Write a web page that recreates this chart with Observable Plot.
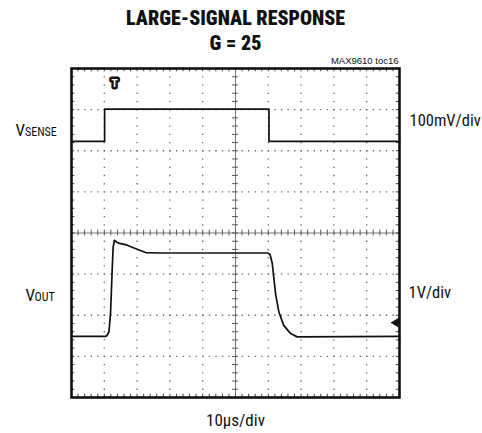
<!DOCTYPE html>
<html><head><meta charset="utf-8">
<script src="https://cdn.jsdelivr.net/npm/d3@7"></script>
<script src="https://cdn.jsdelivr.net/npm/@observablehq/plot@0.6"></script>
<style>body{margin:0;background:#fff;}</style>
</head><body><div id="chart"></div>
<script>
// Time base: 10 µs/div, 10 divisions
const xTicks = [0, 10, 20, 30, 40, 50, 60, 70, 80, 90, 100];
// Vertical: 8 divisions
const yTicks = [0, 1, 2, 3, 4, 5, 6, 7, 8];

// VSENSE trace (mV), 100 mV/div
const vsenseT  = [0, 10.1, 10.1, 60.2, 60.2, 100];
const vsenseMv = [0, 0, 78, 78, 0, 0];
const vsenseZeroDiv = 6.23;
const vsenseMvPerDiv = 100;

// VOUT trace (V), 1 V/div
const voutT = [0, 10.4, 10.9, 11.4, 11.9, 12.4, 12.7, 13.1, 13.7, 14.4, 17.0, 20.0, 22.6, 27.1, 59.7, 60.5, 61.2, 62.2, 63.2, 64.7, 66.8, 68.8, 100];
const voutV = [0, 0, 0.03, 0.11, 0.56, 1.61, 2.18, 2.34, 2.30, 2.27, 2.22, 2.12, 2.04, 2.03, 2.03, 2.00, 1.78, 1.05, 0.60, 0.27, 0.07, -0.01, 0];
const voutZeroDiv = 1.484;
const voutVPerDiv = 1;

// markers
const triggerT = [13.1];
const groundDiv = [1.82];

const titleText = "LARGE-SIGNAL RESPONSE";
const subtitleText = "G = 25";
const tocText = "MAX9610 toc16";
const xLabel = "10µs/div";
const vsenseScale = "100mV/div";
const voutScale = "1V/div";

const narrow = "'Liberation Sans Narrow', 'Arial Narrow', 'Roboto Condensed', sans-serif";

const vsense = vsenseT.map((t, i) => ({t, d: vsenseZeroDiv + vsenseMv[i] / vsenseMvPerDiv}));
const vout = voutT.map((t, i) => ({t, d: voutZeroDiv + voutV[i] / voutVPerDiv}));

const minorX = d3.range(0, 100.001, 2);
const minorY = d3.range(0, 8.001, 0.2);
const gridX = xTicks.filter(v => v !== 0 && v !== 100 && v !== 50);
const gridY = yTicks.filter(v => v !== 0 && v !== 8 && v !== 4);

const txt = (s, o) => Plot.text([s], {text: d => d, fontFamily: narrow, fill: "#111", ...o});

const chart = Plot.plot({
  width: 482, height: 433,
  marginLeft: 71, marginRight: 83, marginTop: 68, marginBottom: 36,
  x: {domain: [0, 100], axis: null},
  y: {domain: [0, 8], axis: null},
  style: {background: "#fff", fontFamily: narrow},
  marks: [
    Plot.ruleY(gridY, {stroke: "#666", strokeWidth: 1.3, strokeDasharray: "1.3,5.26"}),
    Plot.ruleX(gridX, {stroke: "#666", strokeWidth: 1.3, strokeDasharray: "1.3,6.92"}),
    Plot.ruleY([4], {stroke: "#777", strokeWidth: 1}),
    Plot.ruleX([50], {stroke: "#777", strokeWidth: 1}),
    Plot.ruleX(minorX, {y1: 3.93, y2: 4.07, stroke: "#555", strokeWidth: 1}),
    Plot.ruleY(minorY, {x1: 49.1, x2: 50.9, stroke: "#555", strokeWidth: 1}),
    Plot.ruleX(minorX, {y1: 8, y2: 7.92, stroke: "#444", strokeWidth: 1}),
    Plot.ruleX(minorX, {y1: 0, y2: 0.08, stroke: "#444", strokeWidth: 1}),
    Plot.ruleY(minorY, {x1: 0, x2: 1, stroke: "#444", strokeWidth: 1}),
    Plot.ruleY(minorY, {x1: 100, x2: 99, stroke: "#444", strokeWidth: 1}),
    Plot.line(vsense, {x: "t", y: "d", stroke: "#111", strokeWidth: 1.7}),
    Plot.line(vout, {x: "t", y: "d", stroke: "#111", strokeWidth: 1.7}),
    Plot.frame({stroke: "#111", strokeWidth: 2.6}),
    Plot.text(triggerT, {x: d => d, frameAnchor: "top", dy: 11, text: () => "T", fill: "white", stroke: "#111", strokeWidth: 5, fontWeight: "bold", fontSize: 10, fontFamily: "Liberation Sans, Arial, sans-serif"}),
    Plot.dot(groundDiv, {x: () => 100, y: d => d, dx: -3.5, symbol: "triangle", rotate: -90, r: 3.6, fill: "#111", stroke: "none"}),
    txt(titleText, {frameAnchor: "top", dy: -44, lineAnchor: "bottom", fontSize: 20, fontWeight: 900}),
    txt(subtitleText, {frameAnchor: "top", dy: -19, lineAnchor: "bottom", fontSize: 20, fontWeight: 900}),
    txt(tocText, {frameAnchor: "top-right", dy: -5, dx: -1, lineAnchor: "bottom", textAnchor: "end", fontSize: 9.5, fontFamily: "Liberation Sans, Arial, sans-serif"}),
    txt("V", {frameAnchor: "top-left", dx: -56, dy: 67, lineAnchor: "bottom", textAnchor: "start", fontSize: 17}),
    txt("SENSE", {frameAnchor: "top-left", dx: -46.5, dy: 67, lineAnchor: "bottom", textAnchor: "start", fontSize: 12}),
    txt("V", {frameAnchor: "top-left", dx: -46, dy: 232, lineAnchor: "bottom", textAnchor: "start", fontSize: 17}),
    txt("OUT", {frameAnchor: "top-left", dx: -37, dy: 232, lineAnchor: "bottom", textAnchor: "start", fontSize: 12}),
    txt(vsenseScale, {frameAnchor: "top-right", dx: 10, dy: 57, lineAnchor: "bottom", textAnchor: "start", fontSize: 16.5}),
    txt(voutScale, {frameAnchor: "top-right", dx: 9, dy: 229, lineAnchor: "bottom", textAnchor: "start", fontSize: 16.5}),
    txt(xLabel, {frameAnchor: "bottom", dy: 28, lineAnchor: "bottom", fontSize: 17})
  ]
});
document.getElementById("chart").appendChild(chart);
</script>
</body></html>
